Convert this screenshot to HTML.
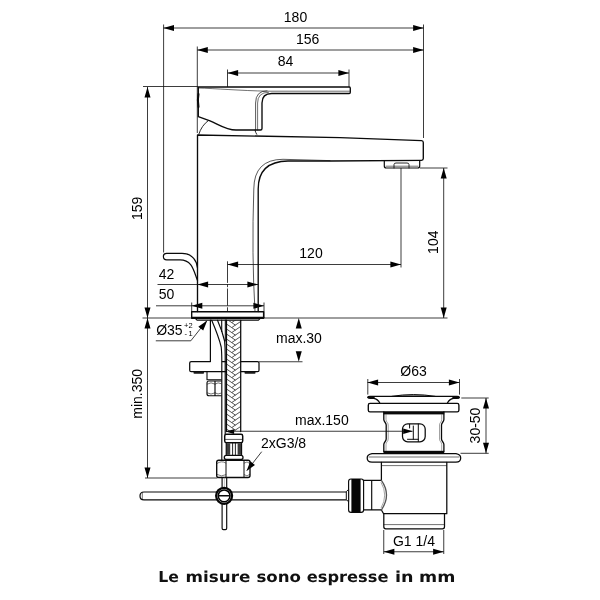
<!DOCTYPE html>
<html lang="it"><head><meta charset="utf-8"><title>Le misure sono espresse in mm</title>
<style>
html,body{margin:0;padding:0;background:#fff;}
body{width:600px;height:600px;overflow:hidden;position:relative;}
svg{position:absolute;left:0;top:0;display:block;will-change:transform;}
svg text{font-family:"Liberation Sans",sans-serif;fill:#000;}
svg text.cap{font-family:"DejaVu Sans","Liberation Sans",sans-serif;font-weight:bold;fill:#111;text-rendering:geometricPrecision;}
</style></head><body>
<svg width="600" height="600" viewBox="0 0 600 600">
<rect width="600" height="600" fill="#fff"/>
<line x1="163.6" y1="24.5" x2="163.6" y2="252.5" stroke="#111" stroke-width="0.82" fill="none"/>
<line x1="423.5" y1="24.5" x2="423.5" y2="138" stroke="#111" stroke-width="0.82" fill="none"/>
<line x1="163.6" y1="28" x2="423.5" y2="28" stroke="#111" stroke-width="0.82" fill="none"/>
<polygon points="163.40,28.00 174.00,25.00 174.00,31.00" fill="#000"/>
<polygon points="423.70,28.00 413.10,31.00 413.10,25.00" fill="#000"/>
<line x1="197.3" y1="46.5" x2="197.3" y2="133" stroke="#111" stroke-width="0.82" fill="none"/>
<line x1="197.3" y1="50" x2="423.5" y2="50" stroke="#111" stroke-width="0.82" fill="none"/>
<polygon points="197.20,50.00 207.80,47.00 207.80,53.00" fill="#000"/>
<polygon points="423.70,50.00 413.10,53.00 413.10,47.00" fill="#000"/>
<line x1="227.5" y1="69.5" x2="227.5" y2="87" stroke="#111" stroke-width="0.82" fill="none"/>
<line x1="349" y1="69.5" x2="349" y2="87" stroke="#111" stroke-width="0.82" fill="none"/>
<line x1="227.5" y1="73" x2="349" y2="73" stroke="#111" stroke-width="0.82" fill="none"/>
<polygon points="227.50,73.00 238.10,70.00 238.10,76.00" fill="#000"/>
<polygon points="349.00,73.00 338.40,76.00 338.40,70.00" fill="#000"/>
<line x1="143" y1="86.5" x2="198" y2="86.5" stroke="#111" stroke-width="0.82" fill="none"/>
<line x1="142.5" y1="318" x2="192" y2="318" stroke="#111" stroke-width="0.82" fill="none"/>
<line x1="147.5" y1="87" x2="147.5" y2="478" stroke="#111" stroke-width="0.82" fill="none"/>
<polygon points="147.50,87.00 150.50,97.60 144.50,97.60" fill="#000"/>
<polygon points="147.50,318.00 144.50,307.40 150.50,307.40" fill="#000"/>
<polygon points="147.50,318.00 150.50,328.60 144.50,328.60" fill="#000"/>
<polygon points="147.50,478.00 144.50,467.40 150.50,467.40" fill="#000"/>
<line x1="145" y1="478" x2="217.5" y2="478" stroke="#111" stroke-width="0.82" fill="none"/>
<line x1="420" y1="168" x2="447.5" y2="168" stroke="#111" stroke-width="0.82" fill="none"/>
<line x1="264" y1="318" x2="447.5" y2="318" stroke="#111" stroke-width="0.82" fill="none"/>
<line x1="443.7" y1="168" x2="443.7" y2="318" stroke="#111" stroke-width="0.82" fill="none"/>
<polygon points="443.70,168.00 446.70,178.60 440.70,178.60" fill="#000"/>
<polygon points="443.70,318.00 440.70,307.40 446.70,307.40" fill="#000"/>
<line x1="227.5" y1="261.3" x2="227.5" y2="311.5" stroke="#111" stroke-width="0.82" fill="none" stroke-dasharray="21.6 1.3 3 1.3 17.2 1.6 4.2"/>
<line x1="401" y1="168" x2="401" y2="267.5" stroke="#111" stroke-width="0.82" fill="none"/>
<line x1="227.5" y1="264.5" x2="401" y2="264.5" stroke="#111" stroke-width="0.82" fill="none"/>
<polygon points="227.50,264.50 238.10,261.50 238.10,267.50" fill="#000"/>
<polygon points="401.00,264.50 390.40,267.50 390.40,261.50" fill="#000"/>
<line x1="157.5" y1="284.5" x2="258" y2="284.5" stroke="#111" stroke-width="0.82" fill="none"/>
<polygon points="197.50,284.50 208.10,281.50 208.10,287.50" fill="#000"/>
<polygon points="258.00,284.50 247.40,287.50 247.40,281.50" fill="#000"/>
<line x1="156" y1="305.8" x2="264" y2="305.8" stroke="#111" stroke-width="0.82" fill="none"/>
<polygon points="191.70,305.80 202.30,302.80 202.30,308.80" fill="#000"/>
<polygon points="264.00,305.80 253.40,308.80 253.40,302.80" fill="#000"/>
<line x1="191.7" y1="302.5" x2="191.7" y2="312" stroke="#111" stroke-width="0.82" fill="none"/>
<line x1="264" y1="302.5" x2="264" y2="318" stroke="#111" stroke-width="0.82" fill="none"/>
<polygon points="298.75,318.00 301.75,328.60 295.75,328.60" fill="#000"/>
<polygon points="298.75,361.75 295.75,351.15 301.75,351.15" fill="#000"/>
<line x1="259" y1="361.75" x2="302.5" y2="361.75" stroke="#111" stroke-width="0.82" fill="none"/>
<line x1="367.8" y1="379" x2="367.8" y2="394.6" stroke="#111" stroke-width="0.82" fill="none"/>
<line x1="459.5" y1="379" x2="459.5" y2="394.6" stroke="#111" stroke-width="0.82" fill="none"/>
<line x1="367.5" y1="382.5" x2="459.5" y2="382.5" stroke="#111" stroke-width="0.82" fill="none"/>
<polygon points="367.50,382.50 378.10,379.50 378.10,385.50" fill="#000"/>
<polygon points="459.50,382.50 448.90,385.50 448.90,379.50" fill="#000"/>
<line x1="461.3" y1="398" x2="488.7" y2="398" stroke="#111" stroke-width="0.82" fill="none"/>
<line x1="460.5" y1="453.3" x2="488.7" y2="453.3" stroke="#111" stroke-width="0.82" fill="none"/>
<line x1="486" y1="398" x2="486" y2="453.3" stroke="#111" stroke-width="0.82" fill="none"/>
<polygon points="486.00,398.00 489.00,408.60 483.00,408.60" fill="#000"/>
<polygon points="486.00,453.30 483.00,442.70 489.00,442.70" fill="#000"/>
<line x1="383.75" y1="530" x2="383.75" y2="554" stroke="#111" stroke-width="0.82" fill="none"/>
<line x1="443.75" y1="530" x2="443.75" y2="554" stroke="#111" stroke-width="0.82" fill="none"/>
<line x1="383.75" y1="551.75" x2="443.75" y2="551.75" stroke="#111" stroke-width="0.82" fill="none"/>
<polygon points="383.75,551.75 394.35,548.75 394.35,554.75" fill="#000"/>
<polygon points="443.75,551.75 433.15,554.75 433.15,548.75" fill="#000"/>
<path d="M155.8 340.8 H190.8 L206.7 320.8" stroke="#111" stroke-width="0.82" fill="none"/>
<polygon points="207.30,320.40 203.19,330.55 198.34,326.69" fill="#000"/>
<line x1="261.7" y1="451.7" x2="247" y2="470.5" stroke="#111" stroke-width="0.82" fill="none"/>
<polygon points="246.50,471.00 250.37,461.33 254.94,464.91" fill="#000"/>
<text x="295.5" y="21.7" font-size="14" text-anchor="middle" >180</text>
<text x="307.6" y="43.7" font-size="14" text-anchor="middle" >156</text>
<text x="285.5" y="66.3" font-size="14" text-anchor="middle" >84</text>
<text x="311" y="258" font-size="14" text-anchor="middle" >120</text>
<text x="166.5" y="278.7" font-size="14" text-anchor="middle" >42</text>
<text x="166.5" y="299" font-size="14" text-anchor="middle" >50</text>
<text x="141.7" y="208.3" font-size="14" text-anchor="middle" transform="rotate(-90 141.7 208.3)" >159</text>
<text x="141.7" y="393.8" font-size="14" text-anchor="middle" transform="rotate(-90 141.7 393.8)" >min.350</text>
<text x="438" y="242.2" font-size="14" text-anchor="middle" transform="rotate(-90 438 242.2)" >104</text>
<text x="480" y="425.5" font-size="14" text-anchor="middle" transform="rotate(-90 480 425.5)" >30-50</text>
<text x="156.2" y="335" font-size="14" text-anchor="start" >Ø35</text>
<text x="184" y="327.6" font-size="7.5" text-anchor="start" >+2</text>
<text x="184.4" y="335.8" font-size="7.5" text-anchor="start" letter-spacing="1.6">-1</text>
<text x="276" y="342.5" font-size="14" text-anchor="start" >max.30</text>
<text x="295" y="425" font-size="14" text-anchor="start" >max.150</text>
<text x="261" y="447.5" font-size="14" text-anchor="start" >2xG3/8</text>
<text x="413.5" y="376.3" font-size="14" text-anchor="middle" >Ø63</text>
<text x="414" y="545.5" font-size="14" text-anchor="middle" >G1 1/4</text>
<path d="M198.3 87 H349.3 Q350.3 87 350.3 88.2 V92.3 Q350.3 93.5 349.2 93.5 H271.7 Q262 93.5 262 103 V128.5 Q262 130 260.5 130 H236 C226 130 218 124 210 120.8 L198.3 116.7 Z" stroke="#0a0a0a" stroke-width="1.35" fill="none" stroke-linejoin="round" stroke-linecap="round"/>
<path d="M198.3 88 C215 88.5 240 90.6 268 91.2 H349.5" stroke="#111" stroke-width="0.6" fill="none" stroke-linejoin="round" stroke-linecap="round"/>
<path d="M255.6 130 V103 Q255.6 90.8 267 90.8" stroke="#111" stroke-width="0.7" fill="none" stroke-linejoin="round" stroke-linecap="round"/>
<path d="M257.6 130 V103 Q257.6 92.3 268.5 92.3" stroke="#111" stroke-width="0.6" fill="none" stroke-linejoin="round" stroke-linecap="round"/>
<path d="M198.5 94 Q197.2 100 198.5 107" stroke="#0a0a0a" stroke-width="2" fill="none" stroke-linejoin="round" stroke-linecap="round"/>
<path d="M198.8 134.3 Q201.5 125.5 208.3 120.6" stroke="#111" stroke-width="0.9" fill="none" stroke-linejoin="round" stroke-linecap="round"/>
<path d="M255 130.2 Q255.5 132.5 256.7 134.3" stroke="#111" stroke-width="0.9" fill="none" stroke-linejoin="round" stroke-linecap="round"/>
<path d="M197.5 311.5 V135 L340 137.6 L421.5 140.6 Q423.3 140.7 423.3 142.5 V158.6 Q423.3 160.3 421.5 160.3 L330 161 L288 161 Q258.2 161.5 258.2 189 V311.5" stroke="#0a0a0a" stroke-width="1.35" fill="none" stroke-linejoin="round" stroke-linecap="round"/>
<path d="M255 311.5 Q251.6 255 253.8 189 Q254 159.4 283 159.3 L330 160.6" stroke="#111" stroke-width="0.7" fill="none" stroke-linejoin="round" stroke-linecap="round"/>
<path d="M384.3 160.5 V166 Q384.3 168 386.3 168 H417.7 Q419.7 168 419.7 166 V160.5" stroke="#0a0a0a" stroke-width="1.2" fill="none" stroke-linejoin="round" stroke-linecap="round"/>
<path d="M386 166.2 H418" stroke="#111" stroke-width="0.6" fill="none" stroke-linejoin="round" stroke-linecap="round"/>
<path d="M394 168 V164.6 Q394 163 396 163 H407 Q409 163 409 164.6 V168" stroke="#111" stroke-width="0.9" fill="none" stroke-linejoin="round" stroke-linecap="round"/>
<path d="M197.5 280.5 C193.5 270 192 259.8 180 259.8 H166.7 Q163.4 259.8 163.4 256.5 Q163.4 253.3 166.7 253.3 H182 C193 253.3 197 262 197.5 268" stroke="#0a0a0a" stroke-width="1.2" fill="none" stroke-linejoin="round" stroke-linecap="round"/>
<path d="M191.7 311.7 H263.6 V318.2 H191.7 Z" stroke="#0a0a0a" stroke-width="1.35" fill="none" stroke-linejoin="round" stroke-linecap="round"/>
<path d="M195.5 318.6 L197 320.1 H258.5 L260 318.6" stroke="#0a0a0a" stroke-width="1.1" fill="none" stroke-linejoin="round" stroke-linecap="round"/>
<line x1="192" y1="317.6" x2="263.5" y2="317.6" stroke="#0a0a0a" stroke-width="1.6" fill="none" stroke-linejoin="round" stroke-linecap="round"/>
<line x1="210.4" y1="320" x2="210.4" y2="361.5" stroke="#0a0a0a" stroke-width="1.2" fill="none" stroke-linejoin="round" stroke-linecap="round"/>
<line x1="221.7" y1="320" x2="221.7" y2="331.5" stroke="#0a0a0a" stroke-width="1.1" fill="none" stroke-linejoin="round" stroke-linecap="round"/>
<line x1="225.3" y1="320" x2="225.3" y2="341" stroke="#0a0a0a" stroke-width="1.0" fill="none" stroke-linejoin="round" stroke-linecap="round"/>
<path d="M211.7 320.3 C215 328 219 338 221.2 347 C221.7 351 221.8 356 221.8 362 V460" stroke="#0a0a0a" stroke-width="1.15" fill="none" stroke-linejoin="round" stroke-linecap="round"/>
<path d="M217.5 320.3 C220 326 223 334 224.6 341 C225 345 225.2 350 225.2 356 V434" stroke="#0a0a0a" stroke-width="1.15" fill="none" stroke-linejoin="round" stroke-linecap="round"/>
<clipPath id="hc"><rect x="226.5" y="320.3" width="14.2" height="111.2"/></clipPath>
<path clip-path="url(#hc)" d="M226.5 314.0 L235.5 320.2 M240.6 316.5 L232 322.4 M226.5 319.0 L235.5 325.2 M240.6 321.5 L232 327.4 M226.5 324.0 L235.5 330.2 M240.6 326.5 L232 332.4 M226.5 329.0 L235.5 335.2 M240.6 331.5 L232 337.4 M226.5 334.0 L235.5 340.2 M240.6 336.5 L232 342.4 M226.5 339.0 L235.5 345.2 M240.6 341.5 L232 347.4 M226.5 344.0 L235.5 350.2 M240.6 346.5 L232 352.4 M226.5 349.0 L235.5 355.2 M240.6 351.5 L232 357.4 M226.5 354.0 L235.5 360.2 M240.6 356.5 L232 362.4 M226.5 359.0 L235.5 365.2 M240.6 361.5 L232 367.4 M226.5 364.0 L235.5 370.2 M240.6 366.5 L232 372.4 M226.5 369.0 L235.5 375.2 M240.6 371.5 L232 377.4 M226.5 374.0 L235.5 380.2 M240.6 376.5 L232 382.4 M226.5 379.0 L235.5 385.2 M240.6 381.5 L232 387.4 M226.5 384.0 L235.5 390.2 M240.6 386.5 L232 392.4 M226.5 389.0 L235.5 395.2 M240.6 391.5 L232 397.4 M226.5 394.0 L235.5 400.2 M240.6 396.5 L232 402.4 M226.5 399.0 L235.5 405.2 M240.6 401.5 L232 407.4 M226.5 404.0 L235.5 410.2 M240.6 406.5 L232 412.4 M226.5 409.0 L235.5 415.2 M240.6 411.5 L232 417.4 M226.5 414.0 L235.5 420.2 M240.6 416.5 L232 422.4 M226.5 419.0 L235.5 425.2 M240.6 421.5 L232 427.4 M226.5 424.0 L235.5 430.2 M240.6 426.5 L232 432.4 M226.5 429.0 L235.5 435.2 M240.6 431.5 L232 437.4" stroke="#2a2a2a" stroke-width="0.8" fill="none"/>
<line x1="226.4" y1="320.3" x2="226.4" y2="431.5" stroke="#0a0a0a" stroke-width="1.4" fill="none" stroke-linejoin="round" stroke-linecap="round"/>
<line x1="240.7" y1="320.3" x2="240.7" y2="431.5" stroke="#0a0a0a" stroke-width="1.25" fill="none" stroke-linejoin="round" stroke-linecap="round"/>
<path d="M191.2 361.5 H210.4 M222.4 361.5 H226 M241 361.5 H257.5 Q259 361.5 259 363 V370.2 Q259 371.7 257.5 371.7 H241 M226 371.7 H191.2 Q189.7 371.7 189.7 370.2 V363 Q189.7 361.5 191.2 361.5" stroke="#0a0a0a" stroke-width="1.25" fill="none" stroke-linejoin="round" stroke-linecap="round"/>
<rect x="193.5" y="371.8" width="10.5" height="2" rx="0.8" fill="#1a1a1a"/>
<rect x="244.5" y="371.8" width="11" height="2" rx="0.8" fill="#1a1a1a"/>
<path d="M207 372 V379.7 H221.3" stroke="#0a0a0a" stroke-width="1.1" fill="none" stroke-linejoin="round" stroke-linecap="round"/>
<path d="M207 383 Q207 381 209 381 H221.3 M207 383 V393.7 Q207 395.7 209 395.7 H221.3 M215 381 V395.7" stroke="#0a0a0a" stroke-width="1.15" fill="none" stroke-linejoin="round" stroke-linecap="round"/>
<path d="M207.3 384 Q211 381.5 214.8 384 M215.2 384 Q218 381.8 221 383.5 M207.3 393 Q211 395.3 214.8 393 M215.2 393 Q218 395 221 393.3" stroke="#111" stroke-width="0.6" fill="none" stroke-linejoin="round" stroke-linecap="round"/>
<polygon points="225.60,431.60 234.10,429.20 234.10,434.00" fill="#000"/>
<path d="M226.4 434.3 H241 Q242.7 434.3 242.7 436 V441 Q242.7 442.7 241 442.7 H226.4 Q224.7 442.7 224.7 441 V436 Q224.7 434.3 226.4 434.3 Z" stroke="#0a0a0a" stroke-width="1.45" fill="none" stroke-linejoin="round" stroke-linecap="round"/>
<line x1="225.2" y1="439.4" x2="242.3" y2="439.4" stroke="#111" stroke-width="0.7" fill="none" stroke-linejoin="round" stroke-linecap="round"/>
<rect x="226.2" y="443.2" width="4" height="11.6" fill="#3c3c3c"/>
<rect x="237.6" y="443.2" width="4" height="11.6" fill="#3c3c3c"/>
<path d="M226.2 442.7 V455 M241.6 442.7 V455" stroke="#0a0a0a" stroke-width="1.1" fill="none" stroke-linejoin="round" stroke-linecap="round"/>
<line x1="232.6" y1="443.4" x2="232.6" y2="454.8" stroke="#111" stroke-width="0.9" fill="none" stroke-linejoin="round" stroke-linecap="round"/>
<line x1="235.4" y1="443.4" x2="235.4" y2="454.8" stroke="#111" stroke-width="0.9" fill="none" stroke-linejoin="round" stroke-linecap="round"/>
<path d="M226.3 455.3 H241 Q243 455.3 243 457.4 Q243 459.5 241 459.5 H226.3 Q224.3 459.5 224.3 457.4 Q224.3 455.3 226.3 455.3 Z" stroke="#0a0a0a" stroke-width="1.3" fill="none" stroke-linejoin="round" stroke-linecap="round"/>
<path d="M218.7 460.2 H248 Q250 460.2 250 462.2 V475.5 Q250 477.5 248 477.5 H218.7 Q216.7 477.5 216.7 475.5 V462.2 Q216.7 460.2 218.7 460.2 Z" stroke="#0a0a0a" stroke-width="1.35" fill="none" stroke-linejoin="round" stroke-linecap="round"/>
<path d="M226 460.5 V477.3 M244 460.5 V477.3" stroke="#0a0a0a" stroke-width="1.0" fill="none" stroke-linejoin="round" stroke-linecap="round"/>
<path d="M217 463.5 Q221.5 460.2 225.8 463 M244.2 463 Q247 460.5 249.8 463.3 M217 474.5 Q221.5 477.3 225.8 474.8 M244.2 474.8 Q247 477.3 249.8 474.5" stroke="#111" stroke-width="0.55" fill="none" stroke-linejoin="round" stroke-linecap="round"/>
<path d="M222.1 477.5 V528.3 Q222.1 529.6 223.4 529.6 H225.4 Q226.7 529.6 226.7 528.3 V477.5" stroke="#0a0a0a" stroke-width="1.15" fill="none" stroke-linejoin="round" stroke-linecap="round"/>
<line x1="224.4" y1="478" x2="224.4" y2="487" stroke="#888" stroke-width="0.5" fill="none" stroke-linejoin="round" stroke-linecap="round"/>
<path d="M346.3 492 H144 Q140 492 140 496 Q140 499.9 144 499.9 H346.3" stroke="#0a0a0a" stroke-width="1.2" fill="none" stroke-linejoin="round" stroke-linecap="round"/>
<line x1="142.3" y1="493" x2="142.3" y2="499.4" stroke="#111" stroke-width="0.6" fill="none" stroke-linejoin="round" stroke-linecap="round"/>
<circle cx="224.1" cy="495.8" r="8" fill="#fff" stroke="#050505" stroke-width="2.2"/>
<circle cx="224.1" cy="495.8" r="5.9" fill="#fff" stroke="#000" stroke-width="1.55"/>
<line x1="218.8" y1="495.8" x2="229.4" y2="495.8" stroke="#0a0a0a" stroke-width="1.6" fill="none" stroke-linejoin="round" stroke-linecap="round"/>
<path d="M392 396.4 Q413.5 392.6 435 396.4 Z" fill="#9a9a9a" stroke="none"/>
<path d="M367.7 397.3 Q368 396.4 370 396.4 H457 Q459.2 396.4 459.4 397.3 Q459.2 398.3 457 398.3 L453.5 398.4 Q449.5 399 447.3 403.2 M379.9 403.2 Q377.7 399 373.7 398.4 L370 398.3 Q368 398.3 367.7 397.3" stroke="#0a0a0a" stroke-width="1.25" fill="none" stroke-linejoin="round" stroke-linecap="round"/>
<path d="M392 396.3 Q413.5 392.8 435 396.3" stroke="#0a0a0a" stroke-width="1.0" fill="none" stroke-linejoin="round" stroke-linecap="round"/>
<line x1="368.3" y1="397.4" x2="374" y2="397.4" stroke="#0a0a0a" stroke-width="1.5" fill="none" stroke-linejoin="round" stroke-linecap="round"/>
<line x1="453" y1="397.4" x2="458.8" y2="397.4" stroke="#0a0a0a" stroke-width="1.5" fill="none" stroke-linejoin="round" stroke-linecap="round"/>
<path d="M370 403.4 H457.2 Q458.9 403.4 458.9 405.2 V410.2 Q458.9 411.9 457.2 411.9 H370 Q368.3 411.9 368.3 410.2 V405.2 Q368.3 403.4 370 403.4 Z" stroke="#0a0a0a" stroke-width="1.35" fill="none" stroke-linejoin="round" stroke-linecap="round"/>
<rect x="383.5" y="411.9" width="60.7" height="2.5" fill="#0a0a0a"/>
<path d="M383.8 412 V419.5 C383.8 422 386.2 422.5 386.2 425 V439 C386.2 441.5 383.8 442 383.8 444.5 V451.5" stroke="#0a0a0a" stroke-width="1.3" fill="none" stroke-linejoin="round" stroke-linecap="round"/>
<path d="M443.9 412 V419.5 C443.9 422 441.5 422.5 441.5 425 V439 C441.5 441.5 443.9 442 443.9 444.5 V451.5" stroke="#0a0a0a" stroke-width="1.3" fill="none" stroke-linejoin="round" stroke-linecap="round"/>
<path d="M386 414.5 V419.5 C386 422 388.2 422.5 388.2 425 V439 C388.2 441.5 386 442 386 444.5 V450.5" stroke="#555" stroke-width="0.55" fill="none" stroke-linejoin="round" stroke-linecap="round"/>
<path d="M441.7 414.5 V419.5 C441.7 422 439.5 422.5 439.5 425 V439 C439.5 441.5 441.7 442 441.7 444.5 V450.5" stroke="#555" stroke-width="0.55" fill="none" stroke-linejoin="round" stroke-linecap="round"/>
<rect x="383.5" y="450.8" width="60.7" height="2.8" fill="#0a0a0a"/>
<rect x="402.5" y="423.8" width="22.7" height="18" rx="5.2" ry="5.2" fill="#fff" stroke="#0a0a0a" stroke-width="1.25"/>
<path d="M418.3 424 V441.6 M413.3 426 V439.3 M407.5 439.3 H418.3 M409.6 424.3 V428" stroke="#0a0a0a" stroke-width="1.0" fill="none" stroke-linejoin="round" stroke-linecap="round"/>
<line x1="226" y1="431.25" x2="412.5" y2="431.25" stroke="#111" stroke-width="0.82" fill="none"/>
<polygon points="412.70,431.25 403.20,433.95 403.20,428.55" fill="#000"/>
<path d="M372 453.7 H456 Q460.7 454.5 460.7 458 Q460.7 462.2 456 462.2 H372 Q367.2 462.2 367.2 458 Q367.2 454.5 372 453.7 Z" stroke="#0a0a0a" stroke-width="1.25" fill="none" stroke-linejoin="round" stroke-linecap="round"/>
<line x1="369" y1="457" x2="459" y2="457" stroke="#111" stroke-width="0.6" fill="none" stroke-linejoin="round" stroke-linecap="round"/>
<path d="M381.4 462.3 V480.4 M381.4 510 L383.6 513.7 H446.8 V462.3" stroke="#0a0a0a" stroke-width="1.25" fill="none" stroke-linejoin="round" stroke-linecap="round"/>
<line x1="381.5" y1="465.6" x2="446.6" y2="465.6" stroke="#111" stroke-width="0.6" fill="none" stroke-linejoin="round" stroke-linecap="round"/>
<path d="M383.8 513.7 V526.8 Q383.8 528.8 385.8 528.8 H442.5 Q444.5 528.8 444.5 526.8 V513.7" stroke="#0a0a0a" stroke-width="1.25" fill="none" stroke-linejoin="round" stroke-linecap="round"/>
<line x1="384" y1="524.6" x2="444.3" y2="524.6" stroke="#111" stroke-width="0.6" fill="none" stroke-linejoin="round" stroke-linecap="round"/>
<path d="M381.4 480.4 H363.6 M363.6 509.8 H381.4 M371.7 480.6 V509.6" stroke="#0a0a0a" stroke-width="1.15" fill="none" stroke-linejoin="round" stroke-linecap="round"/>
<path d="M381.4 480.4 Q391.6 495 381.4 510" stroke="#555" stroke-width="1.3" fill="none" stroke-linejoin="round" stroke-linecap="round"/>
<path d="M381.2 482.6 Q388.4 495 381.2 507.8" stroke="#666" stroke-width="0.6" fill="none" stroke-linejoin="round" stroke-linecap="round"/>
<path d="M351 479 H361.2 Q363.6 479 363.6 481.4 V510 Q363.6 512.4 361.2 512.4 H351 Q348.6 512.4 348.6 510 V481.4 Q348.6 479 351 479 Z" fill="#fff" stroke="#0a0a0a" stroke-width="1.15"/>
<rect x="351.4" y="479" width="9.2" height="33.4" fill="#050505"/>
<path d="M348.6 489.4 L346.3 491.6 V499.6 L348.6 501.8 Z" fill="#fff" stroke="#0a0a0a" stroke-width="1.0" stroke-linejoin="round"/>
<text class="cap" y="582.4" font-size="15.2" font-weight="bold"><tspan x="158.2" textLength="20.6" lengthAdjust="spacingAndGlyphs">Le</tspan> <tspan x="185.6" textLength="64.8" lengthAdjust="spacingAndGlyphs">misure</tspan> <tspan x="256.4" textLength="44.6" lengthAdjust="spacingAndGlyphs">sono</tspan> <tspan x="306.8" textLength="81.6" lengthAdjust="spacingAndGlyphs">espresse</tspan> <tspan x="395.1" textLength="18.5" lengthAdjust="spacingAndGlyphs">in</tspan> <tspan x="419" textLength="36.3" lengthAdjust="spacingAndGlyphs">mm</tspan></text>
</svg>
</body></html>
